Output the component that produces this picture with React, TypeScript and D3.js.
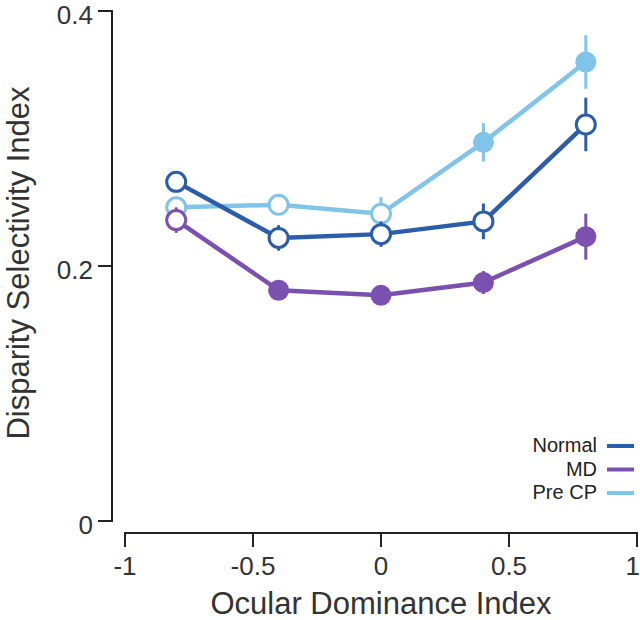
import { useEffect, useRef } from 'react'
import * as d3 from 'd3'

const odi = [-0.8, -0.4, 0, 0.4, 0.8]

const normalValues = [0.266, 0.222, 0.225, 0.235, 0.311]
const normalErrors = [0.008, 0.01, 0.01, 0.014, 0.021]
const normalFilled = [false, false, false, false, false]

const mdValues = [0.236, 0.181, 0.177, 0.187, 0.223]
const mdErrors = [0.01, 0.006, 0.005, 0.009, 0.018]
const mdFilled = [false, true, true, true, true]

const preCpValues = [0.246, 0.248, 0.241, 0.297, 0.36]
const preCpErrors = [0.008, 0.008, 0.013, 0.015, 0.021]
const preCpFilled = [false, false, false, true, true]

const seriesNames = ['Normal', 'MD', 'Pre CP']
const seriesColors = ['#2b5daa', '#7a50b0', '#80c4ea']

const xTicks = [-1, -0.5, 0, 0.5, 1]
const yTicks = [0, 0.2, 0.4]

interface Point {
  x: number
  v: number
  e: number
  filled: boolean
}

const App = () => {
  const svgRef = useRef<SVGSVGElement | null>(null)

  useEffect(() => {
    if (!svgRef.current) return
    const svg = d3.select(svgRef.current)
    svg.selectAll('*').remove()

    const font = 'Liberation Sans, Arial, sans-serif'
    const axisX = 112
    const axisY = 533

    const x = d3.scaleLinear().domain([-1, 1]).range([125, 637])
    const y = d3.scaleLinear().domain([0, 0.4]).range([521, 11])

    const build = (vals: number[], errs: number[], filled: boolean[]): Point[] =>
      odi.map((o, i) => ({ x: o, v: vals[i], e: errs[i], filled: filled[i] }))

    const series = [
      build(normalValues, normalErrors, normalFilled),
      build(mdValues, mdErrors, mdFilled),
      build(preCpValues, preCpErrors, preCpFilled),
    ]

    // y axis
    const yAxis = svg.append('g')
    yAxis
      .append('line')
      .attr('x1', axisX)
      .attr('x2', axisX)
      .attr('y1', y(0.4) - 1)
      .attr('y2', y(0) + 1)
      .attr('stroke', '#222')
      .attr('stroke-width', 2)
    yTicks.forEach((t) => {
      yAxis
        .append('line')
        .attr('x1', 98)
        .attr('x2', axisX)
        .attr('y1', y(t))
        .attr('y2', y(t))
        .attr('stroke', '#222')
        .attr('stroke-width', 2)
      yAxis
        .append('text')
        .attr('x', 93)
        .attr('y', y(t) + 4)
        .attr('dy', '0.36em')
        .attr('text-anchor', 'end')
        .attr('font-family', font)
        .attr('font-size', 26)
        .attr('fill', '#333')
        .text(d3.format('')(t))
    })

    // x axis
    const xAxis = svg.append('g')
    xAxis
      .append('line')
      .attr('x1', x(-1) - 1)
      .attr('x2', x(1) + 1)
      .attr('y1', axisY)
      .attr('y2', axisY)
      .attr('stroke', '#222')
      .attr('stroke-width', 2)
    xTicks.forEach((t) => {
      xAxis
        .append('line')
        .attr('x1', x(t))
        .attr('x2', x(t))
        .attr('y1', axisY)
        .attr('y2', axisY + 14)
        .attr('stroke', '#222')
        .attr('stroke-width', 2)
      xAxis
        .append('text')
        .attr('x', x(t))
        .attr('y', 575)
        .attr('text-anchor', t === 1 ? 'end' : 'middle')
        .attr('dx', t === 1 ? 3 : 0)
        .attr('font-family', font)
        .attr('font-size', 26)
        .attr('fill', '#333')
        .text(String(t))
    })

    // axis titles
    svg
      .append('text')
      .attr('x', 381)
      .attr('y', 614)
      .attr('text-anchor', 'middle')
      .attr('font-family', font)
      .attr('font-size', 31)
      .attr('fill', '#333')
      .text('Ocular Dominance Index')
    svg
      .append('text')
      .attr('transform', 'translate(29, 263) rotate(-90)')
      .attr('text-anchor', 'middle')
      .attr('font-family', font)
      .attr('font-size', 31)
      .attr('fill', '#333')
      .text('Disparity Selectivity Index')

    const line = d3
      .line<Point>()
      .x((d) => x(d.x))
      .y((d) => y(d.v))

    // draw Pre CP first, then MD, then Normal on top
    const order = [2, 1, 0]
    order.forEach((si) => {
      const data = series[si]
      const color = seriesColors[si]
      const g = svg.append('g')
      g.append('path')
        .datum(data)
        .attr('fill', 'none')
        .attr('stroke', color)
        .attr('stroke-width', 4.5)
        .attr('d', line)
      g.selectAll('line.err')
        .data(data)
        .join('line')
        .attr('class', 'err')
        .attr('x1', (d) => x(d.x))
        .attr('x2', (d) => x(d.x))
        .attr('y1', (d) => y(d.v - d.e))
        .attr('y2', (d) => y(d.v + d.e))
        .attr('stroke', color)
        .attr('stroke-width', 3)
      g.selectAll('circle')
        .data(data)
        .join('circle')
        .attr('cx', (d) => x(d.x))
        .attr('cy', (d) => y(d.v))
        .attr('r', (d) => (d.filled ? 10.5 : 9.5))
        .attr('fill', (d) => (d.filled ? color : 'white'))
        .attr('stroke', color)
        .attr('stroke-width', (d) => (d.filled ? 0 : 3))
    })

    // legend
    const legend = svg.append('g')
    seriesNames.forEach((name, i) => {
      const ly = 445 + i * 23.5
      legend
        .append('text')
        .attr('x', 597)
        .attr('y', ly)
        .attr('dy', '0.36em')
        .attr('text-anchor', 'end')
        .attr('font-family', font)
        .attr('font-size', 20)
        .attr('fill', '#222')
        .text(name)
      legend
        .append('line')
        .attr('x1', 607)
        .attr('x2', 634)
        .attr('y1', ly + 1)
        .attr('y2', ly + 1)
        .attr('stroke', seriesColors[i])
        .attr('stroke-width', 4)
    })
  }, [])

  return (
    <svg
      ref={svgRef}
      width={640}
      height={620}
      style={{ position: 'absolute', left: 0, top: 0, background: 'white' }}
    ></svg>
  )
}

export default App
